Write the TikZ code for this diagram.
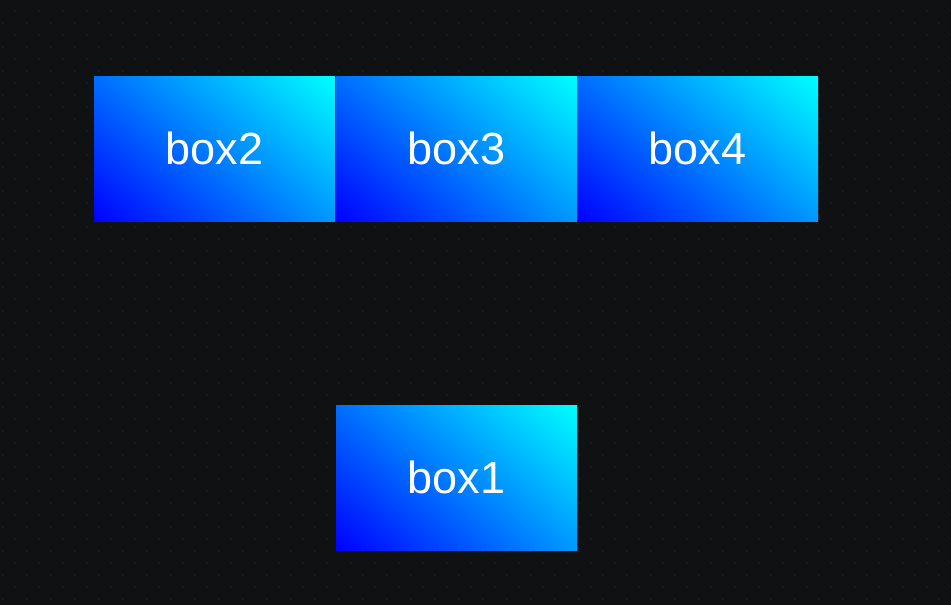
\documentclass[tikz,border=0pt]{standalone}
\usepackage{fontspec}
\setmainfont{Liberation Sans}
\usetikzlibrary{shadings}
\definecolor{bg}{HTML}{0F1113}
\definecolor{dotc}{HTML}{33373B}
\definecolor{gblue}{RGB}{0,0,255}
\definecolor{gcyan}{RGB}{0,255,255}
\tikzset{
  gbox/.style={minimum width=241pt, minimum height=145pt, inner sep=0pt, outer sep=0pt,
    lower left=gblue, upper right=gcyan, lower right=gblue!40!gcyan, upper left=gblue!57!gcyan,
    text=white, font=\fontsize{45}{48}\selectfont, anchor=north west},
  dotmark/.style={fill=dotc}
}
\begin{document}
\begin{tikzpicture}[x=1pt,y=-1pt]
\fill[bg] (0,0) rectangle (951,605);
\useasboundingbox (0,0) rectangle (951,605);
\foreach \r in {0,...,50} {
  \pgfmathsetmacro{\yy}{-1+12*\r}
  \pgfmathsetmacro{\off}{mod(\r,2)==0 ? 3 : 15}
  \foreach \c in {0,...,39} {
    \fill[dotmark] (\off+24*\c,\yy) circle (0.6);
  }
}
\node[gbox] (box2) at (94,76) {box2};
\node[gbox] (box3) at (336,76) {box3};
\node[gbox] (box4) at (577,76) {box4};
\node[gbox] (box1) at (336,405) {box1};
\end{tikzpicture}
\end{document}
